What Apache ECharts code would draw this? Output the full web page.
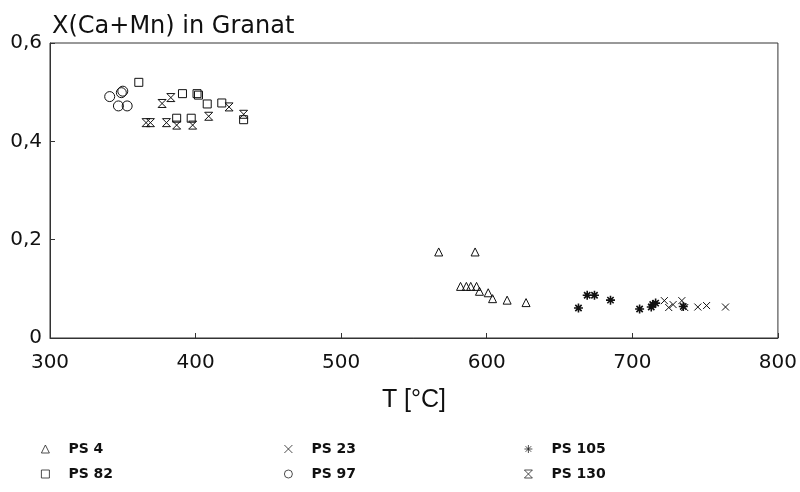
<!DOCTYPE html>
<html><head><meta charset="utf-8">
<script src="https://cdn.jsdelivr.net/npm/echarts@6/dist/echarts.min.js"></script>
<style>html,body{margin:0;padding:0;background:#fff}#c{width:800px;height:492px}</style>
</head><body><div id="c"></div>
<script>
const titleText = "X(Ca+Mn) in Granat";
const xName = "T [°C]";
const seriesNames = ["PS 4", "PS 23", "PS 105", "PS 82", "PS 97", "PS 130"];
const ps4 = [[567,0.175],[592,0.175],[582,0.105],[586,0.105],[589,0.105],[593,0.105],[595,0.095],[601,0.092],[604,0.080],[614,0.077],[627,0.072]];
const ps23 = [[722,0.076],[725,0.062],[728,0.068],[734,0.076],[736,0.062],[745,0.063],[751,0.066],[764,0.063]];
const ps105 = [[663,0.061],[669,0.087],[674,0.087],[685,0.077],[705,0.059],[713,0.063],[714,0.068],[716,0.071],[735,0.064]];
const ps82 = [[361,0.520],[391,0.497],[401,0.497],[402,0.494],[408,0.476],[418,0.478],[387,0.447],[397,0.447],[433,0.444]];
const ps97 = [[341,0.491],[349,0.499],[350,0.502],[347,0.472],[353,0.472]];
const ps130 = [[377,0.477],[383,0.489],[409,0.451],[423,0.470],[433,0.455],[366,0.438],[369,0.438],[380,0.438],[387,0.433],[398,0.433]];

const SYM = {
  tri: 'triangle',
  cross: 'path://M0,0L10,10M10,0L0,10',
  star: 'path://M5,0L5,10M0,5L10,5M1.5,1.5L8.5,8.5M8.5,1.5L1.5,8.5',
  rect: 'rect',
  circ: 'circle',
  hour: 'path://M0,0L10,0L0,10L10,10Z'
};
const symOf = {"PS 4": SYM.tri, "PS 23": SYM.cross, "PS 105": SYM.star, "PS 82": SYM.rect, "PS 97": SYM.circ, "PS 130": SYM.hour};
function mk(name, data, size, bw) {
  return {
    name: name, type: 'scatter', data: data, symbol: symOf[name], symbolSize: size,
    itemStyle: {color: 'rgba(255,255,255,0)', borderColor: '#111', borderWidth: bw || 1, opacity: 1},
    emphasis: {disabled: true}, animation: false
  };
}
const font = 'DejaVu Sans, Liberation Sans, Arial, sans-serif';
const lfont = 'Liberation Sans, Arial, sans-serif';
const chart = echarts.init(document.getElementById('c'), null, {renderer: 'canvas'});
const legPos = {"PS 4": [36, 437], "PS 23": [279, 437], "PS 105": [519, 437], "PS 82": [36, 462], "PS 97": [279, 462], "PS 130": [519, 462]};
const legends = seriesNames.map(n => ({
  data: [{name: n, icon: symOf[n]}], left: legPos[n][0], top: legPos[n][1],
  itemWidth: 8, itemHeight: 8, itemGap: 0, selectedMode: false,
  itemStyle: {color: 'rgba(255,255,255,0)', borderColor: '#222', borderWidth: 0.8},
  textStyle: {fontFamily: font, fontSize: 14, fontWeight: 'bold', color: '#111', padding: [0, 0, 0, 14]}
}));
chart.setOption({
  animation: false,
  backgroundColor: '#fff',
  title: {text: titleText, left: 47, top: 10, textStyle: {fontFamily: font, fontSize: 24, fontWeight: 'normal', color: '#111'}},
  grid: {left: 50, right: 21, top: 43, bottom: 154, show: true, borderColor: '#333', borderWidth: 1, backgroundColor: 'transparent'},
  xAxis: {
    type: 'value', min: 300, max: 800, interval: 100,
    name: xName, nameLocation: 'middle', nameGap: 50,
    nameTextStyle: {fontFamily: lfont, fontSize: 25, color: '#111'},
    axisLine: {show: true, lineStyle: {color: '#333'}},
    axisTick: {show: true, inside: true, length: 5, lineStyle: {color: '#333'}},
    axisLabel: {fontFamily: font, fontSize: 20, color: '#111', margin: 15},
    splitLine: {show: false}
  },
  yAxis: {
    type: 'value', min: 0, max: 0.6, interval: 0.2,
    axisLine: {show: true, lineStyle: {color: '#333'}},
    axisTick: {show: true, inside: true, length: 5, lineStyle: {color: '#333'}},
    axisLabel: {fontFamily: font, fontSize: 20, color: '#111', margin: 8,
      formatter: v => (Math.round(v * 10) / 10).toString().replace('.', ',')},
    splitLine: {show: false}
  },
  legend: legends,
  series: [
    mk('PS 4', ps4, 8),
    mk('PS 23', ps23, 7),
    mk('PS 105', ps105, 9, 1.6),
    mk('PS 82', ps82, 8),
    mk('PS 97', ps97, 10),
    mk('PS 130', ps130, 8)
  ]
});
</script></body></html>
